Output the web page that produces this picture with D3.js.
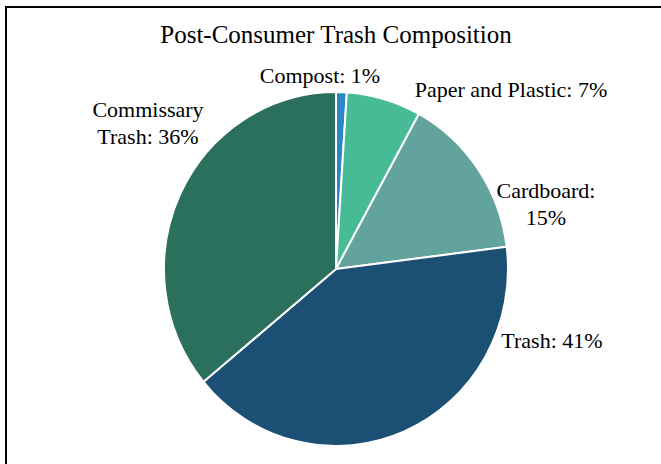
<!DOCTYPE html>
<html><head><meta charset="utf-8">
<script src="https://cdn.jsdelivr.net/npm/d3@7"></script>
<style>html,body{margin:0;padding:0;background:#fff;}svg{display:block;}</style>
</head><body>
<svg id="chart" width="661" height="464"></svg>
<script>
const categories = ["Compost", "Paper and Plastic", "Cardboard", "Trash", "Commissary Trash"];
const values = [1, 7, 15, 41, 36];
const colors = ["#2b85c6", "#46bb96", "#62a39e", "#1b4f74", "#2a705c"];
const labelLines = [["Compost: 1%"], ["Paper and Plastic: 7%"], ["Cardboard:", "15%"], ["Trash: 41%"], ["Commissary", "Trash: 36%"]];
const labelPos = [[320, 83], [511, 97], [546, 198], [552, 348], [148, 117]];
const title = "Post-Consumer Trash Composition";

const svg = d3.select("#chart");
const font = "'Liberation Serif', 'Times New Roman', serif";

svg.append("rect").attr("x", 6).attr("y", 7).attr("width", 700).attr("height", 500)
  .attr("fill", "none").attr("stroke", "#000").attr("stroke-width", 2);

svg.append("text").attr("x", 336).attr("y", 43).attr("text-anchor", "middle")
  .attr("font-family", font).attr("font-size", 25).attr("fill", "#000").text(title);

const cx = 336, cy = 269, r = 172, sy = 177 / 172;
const pie = d3.pie().sort(null).value(d => d)(values);
const arc = d3.arc().innerRadius(0).outerRadius(r);
const g = svg.append("g").attr("transform", `translate(${cx},${cy}) scale(1,${sy})`);
g.selectAll("path").data(pie).join("path")
  .attr("d", arc).attr("fill", (d, i) => colors[i])
  .attr("stroke", "#fff").attr("stroke-width", 2).attr("stroke-linejoin", "round");

labelLines.forEach((lines, i) => {
  const t = svg.append("text").attr("text-anchor", "middle")
    .attr("font-family", font).attr("font-size", 22).attr("fill", "#000");
  lines.forEach((ln, j) => {
    t.append("tspan").attr("x", labelPos[i][0]).attr("y", labelPos[i][1] + j * 27).text(ln);
  });
});
</script>
</body></html>
